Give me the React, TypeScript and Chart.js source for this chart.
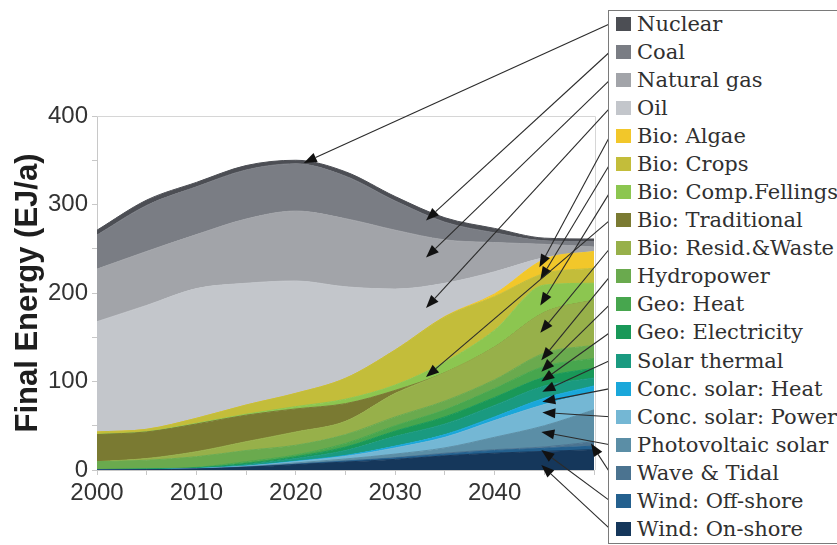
import { useEffect, useRef } from "react";
import { Chart, registerables } from "chart.js";

Chart.register(...registerables);

// Final energy supply by source, EJ per year
const years = [2000, 2005, 2010, 2015, 2020, 2025, 2030, 2035, 2040, 2045, 2050];
const xTickLabels = [2000, 2010, 2020, 2030, 2040];
const yTickLabels = [0, 100, 200, 300, 400];

const nuclear = [5.5, 6, 5, 5, 4, 5, 5, 5, 5, 3, 3];
const coal = [38.5, 52, 54, 55.4, 53.4, 48, 33, 20, 11, 4, 6];
const naturalGas = [59.4, 61, 61, 72.6, 79, 77, 66.5, 49, 33, 15, 5];
const oil = [124.6, 140, 146.6, 137.6, 127, 103.4, 68.9, 37.5, 25, 2, 0];
const bioAlgae = [0, 0, 0, 0, 0, 0, 0, 0.5, 3, 16, 19];
const bioCrops = [2.7, 2.7, 5.7, 10.4, 15, 23.6, 39.6, 51, 38, 13, 17];
const bioFellings = [0.3, 0.3, 0.7, 1, 2.6, 5, 6, 12, 19, 31, 19];
const bioTraditional = [30.6, 30, 31.3, 30, 26, 20, 3.4, 0, 0, 0, 0];
const bioResidues = [0, 2, 5.7, 10, 15, 15, 26.6, 32, 37, 46, 51];
const hydropower = [8.7, 9.6, 12, 12.6, 11, 10, 10, 10, 10, 15, 15];
const geoHeat = [0.2, 0.3, 0.5, 1.9, 2, 4, 6, 8, 10, 12, 11];
const geoElectricity = [0.2, 0.3, 0.5, 1.5, 2, 4, 6, 8, 9, 10, 11];
const solarThermal = [0.3, 0.5, 0.4, 1.4, 3, 5.5, 11, 12, 13, 14, 9];
const cspHeat = [0, 0, 0.1, 0.3, 0.5, 1, 2, 3, 4, 7, 7];
const cspPower = [0, 0, 0.2, 0.5, 1.5, 3, 7, 12, 19, 24, 20];
const photovoltaic = [0, 0, 0.2, 0.5, 1.3, 2.2, 4, 6, 14, 24, 36];
const waveTidal = [0, 0, 0, 0.1, 0.2, 0.3, 0.5, 1, 1, 1.5, 5];
const windOffshore = [0, 0, 0.1, 0.2, 0.5, 1, 1.5, 2, 3, 3.5, 4];
const windOnshore = [0, 0.3, 1, 3, 6, 9, 12, 16, 19, 21, 23];

// Legend order (top of the stack first)
const seriesNames = [
  "Nuclear",
  "Coal",
  "Natural gas",
  "Oil",
  "Bio: Algae",
  "Bio: Crops",
  "Bio: Comp.Fellings",
  "Bio: Traditional",
  "Bio: Resid.&Waste",
  "Hydropower",
  "Geo: Heat",
  "Geo: Electricity",
  "Solar thermal",
  "Conc. solar: Heat",
  "Conc. solar: Power",
  "Photovoltaic solar",
  "Wave & Tidal",
  "Wind: Off-shore",
  "Wind: On-shore",
];

const seriesValues = [
  nuclear,
  coal,
  naturalGas,
  oil,
  bioAlgae,
  bioCrops,
  bioFellings,
  bioTraditional,
  bioResidues,
  hydropower,
  geoHeat,
  geoElectricity,
  solarThermal,
  cspHeat,
  cspPower,
  photovoltaic,
  waveTidal,
  windOffshore,
  windOnshore,
];

const seriesColors = [
  "#4c4e54",
  "#7a7d84",
  "#a2a4a9",
  "#c3c6cb",
  "#f2c72a",
  "#c3bd3a",
  "#8cc650",
  "#7a7a32",
  "#97b04a",
  "#6aaa4e",
  "#47a64e",
  "#199858",
  "#1a9a80",
  "#1aa7da",
  "#74b7d4",
  "#5b8ea6",
  "#4b7390",
  "#24608e",
  "#15375b",
];

// Where each legend arrow points: [year, EJ/a]
const arrowYears = [
  2020.8, 2033.1, 2033.1, 2033.1, 2044.5, 2044.6, 2044.6, 2033.1, 2044.6, 2044.7,
  2044.7, 2044.7, 2044.8, 2044.8, 2044.8, 2044.7, 2049.7, 2044.7, 2044.7,
];
const arrowValues = [
  347, 282, 240, 183, 229, 215, 186, 105, 155, 124, 111, 100, 88.5, 77, 65, 43, 30,
  22.6, 5.6,
];

const SANS = '"Liberation Sans", Arial, sans-serif';
const SERIF = '"DejaVu Serif", "Liberation Serif", serif';

// legend box geometry
const BOX_LEFT = 608;
const BOX_TOP = 10;
const BOX_BOTTOM = 544;
const ROW_TOP = 23.7;
const ROW_GAP = 28.07;

function drawArrow(
  ctx: CanvasRenderingContext2D,
  x0: number,
  y0: number,
  x1: number,
  y1: number
) {
  const ang = Math.atan2(y1 - y0, x1 - x0);
  const head = 13;
  const half = 5;
  const bx = x1 - head * Math.cos(ang);
  const by = y1 - head * Math.sin(ang);
  ctx.beginPath();
  ctx.moveTo(x0, y0);
  ctx.lineTo(bx, by);
  ctx.stroke();
  ctx.beginPath();
  ctx.moveTo(x1, y1);
  ctx.lineTo(bx + half * Math.sin(ang), by - half * Math.cos(ang));
  ctx.lineTo(bx - half * Math.sin(ang), by + half * Math.cos(ang));
  ctx.closePath();
  ctx.fill();
}

const framePlugin = {
  id: "plotFrame",
  beforeDatasetsDraw(chart: any) {
    const { ctx, chartArea } = chart;
    ctx.save();
    ctx.strokeStyle = "#d6d6d6";
    ctx.lineWidth = 1;
    ctx.beginPath();
    ctx.moveTo(chartArea.left, chartArea.top + 0.5);
    ctx.lineTo(chartArea.right + 1.5, chartArea.top + 0.5);
    ctx.lineTo(chartArea.right + 1.5, chartArea.bottom);
    ctx.stroke();
    ctx.restore();
  },
};

const arrowPlugin = {
  id: "legendArrows",
  afterDraw(chart: any) {
    const { ctx, scales } = chart;
    ctx.save();
    ctx.strokeStyle = "#2b2b2b";
    ctx.fillStyle = "#111";
    ctx.lineWidth = 1.1;
    seriesNames.forEach((_, i) => {
      const ry = ROW_TOP + i * ROW_GAP;
      const tx = scales.x.getPixelForValue(arrowYears[i]);
      const ty = scales.y.getPixelForValue(arrowValues[i]);
      drawArrow(ctx, BOX_LEFT + 2, ry, tx, ty);
    });
    ctx.restore();
  },
};

export default function App() {
  const canvasRef = useRef<HTMLCanvasElement | null>(null);

  useEffect(() => {
    const canvas = canvasRef.current;
    if (!canvas) return;

    // bottom of the stack first
    const datasets = seriesNames
      .map((name, i) => ({
        label: name,
        data: seriesValues[i],
        backgroundColor: seriesColors[i],
        borderColor: seriesColors[i],
        borderWidth: 1,
        pointRadius: 0,
        cubicInterpolationMode: "monotone" as const,
        fill: "-1" as any,
      }))
      .reverse();
    datasets[0].fill = "origin";

    const chart = new Chart(canvas, {
      type: "line",
      data: { labels: years, datasets },
      options: {
        animation: false,
        responsive: false,
        devicePixelRatio: 1,
        layout: { padding: { left: 0, top: 116, right: 243, bottom: 0 } },
        plugins: {
          legend: { display: false },
          tooltip: { enabled: false },
        },
        scales: {
          x: {
            type: "linear",
            min: 2000,
            max: 2050,
            ticks: {
              stepSize: 5,
              autoSkip: false,
              maxRotation: 0,
              padding: 4,
              color: "#333333",
              font: { family: SANS, size: 24 },
              callback: (v: any) =>
                xTickLabels.includes(Number(v)) ? String(v) : "",
            },
            grid: {
              drawOnChartArea: false,
              drawTicks: true,
              tickLength: 5,
              color: "#c8c8c8",
            },
            border: { color: "#c8c8c8" },
            afterFit: (s: any) => {
              s.height = 75;
            },
          },
          y: {
            stacked: true,
            min: 0,
            max: 400,
            ticks: {
              stepSize: 50,
              padding: 4,
              color: "#333333",
              font: { family: SANS, size: 24 },
              callback: (v: any) =>
                yTickLabels.includes(Number(v)) ? String(v) : "",
            },
            grid: {
              drawOnChartArea: false,
              drawTicks: true,
              tickLength: 5,
              color: "#c8c8c8",
            },
            border: { color: "#c8c8c8" },
            title: {
              display: true,
              text: "Final Energy (EJ/a)",
              color: "#1e1e1e",
              font: { family: SANS, size: 31, weight: "bold" },
              padding: { top: 10, bottom: 0 },
            },
            afterFit: (s: any) => {
              s.width = 97;
            },
          },
        },
      },
      plugins: [framePlugin, arrowPlugin],
    });

    return () => chart.destroy();
  }, []);

  return (
    <div
      style={{
        position: "absolute",
        left: 0,
        top: 0,
        width: 837,
        height: 545,
        overflow: "hidden",
        background: "#ffffff",
      }}
    >
      <canvas
        ref={canvasRef}
        width={837}
        height={545}
        style={{ display: "block", width: 837, height: 545 }}
      />
      <div
        style={{
          position: "absolute",
          left: BOX_LEFT,
          top: BOX_TOP,
          width: 260,
          height: BOX_BOTTOM - BOX_TOP,
          boxSizing: "border-box",
          border: "1.5px solid #7a7a7a",
          background: "#ffffff",
        }}
      />
      {seriesNames.map((name, i) => {
        const cy = ROW_TOP + i * ROW_GAP;
        return (
          <div
            key={name}
            style={{
              position: "absolute",
              left: 616,
              top: cy - 14,
              height: 28,
              display: "flex",
              alignItems: "center",
              whiteSpace: "nowrap",
            }}
          >
            <span
              style={{
                display: "inline-block",
                width: 15,
                height: 14,
                background: seriesColors[i],
                flex: "none",
              }}
            />
            <span
              style={{
                marginLeft: 6,
                fontFamily: SERIF,
                fontSize: 21,
                lineHeight: "28px",
                color: "#303030",
              }}
            >
              {name}
            </span>
          </div>
        );
      })}
    </div>
  );
}
